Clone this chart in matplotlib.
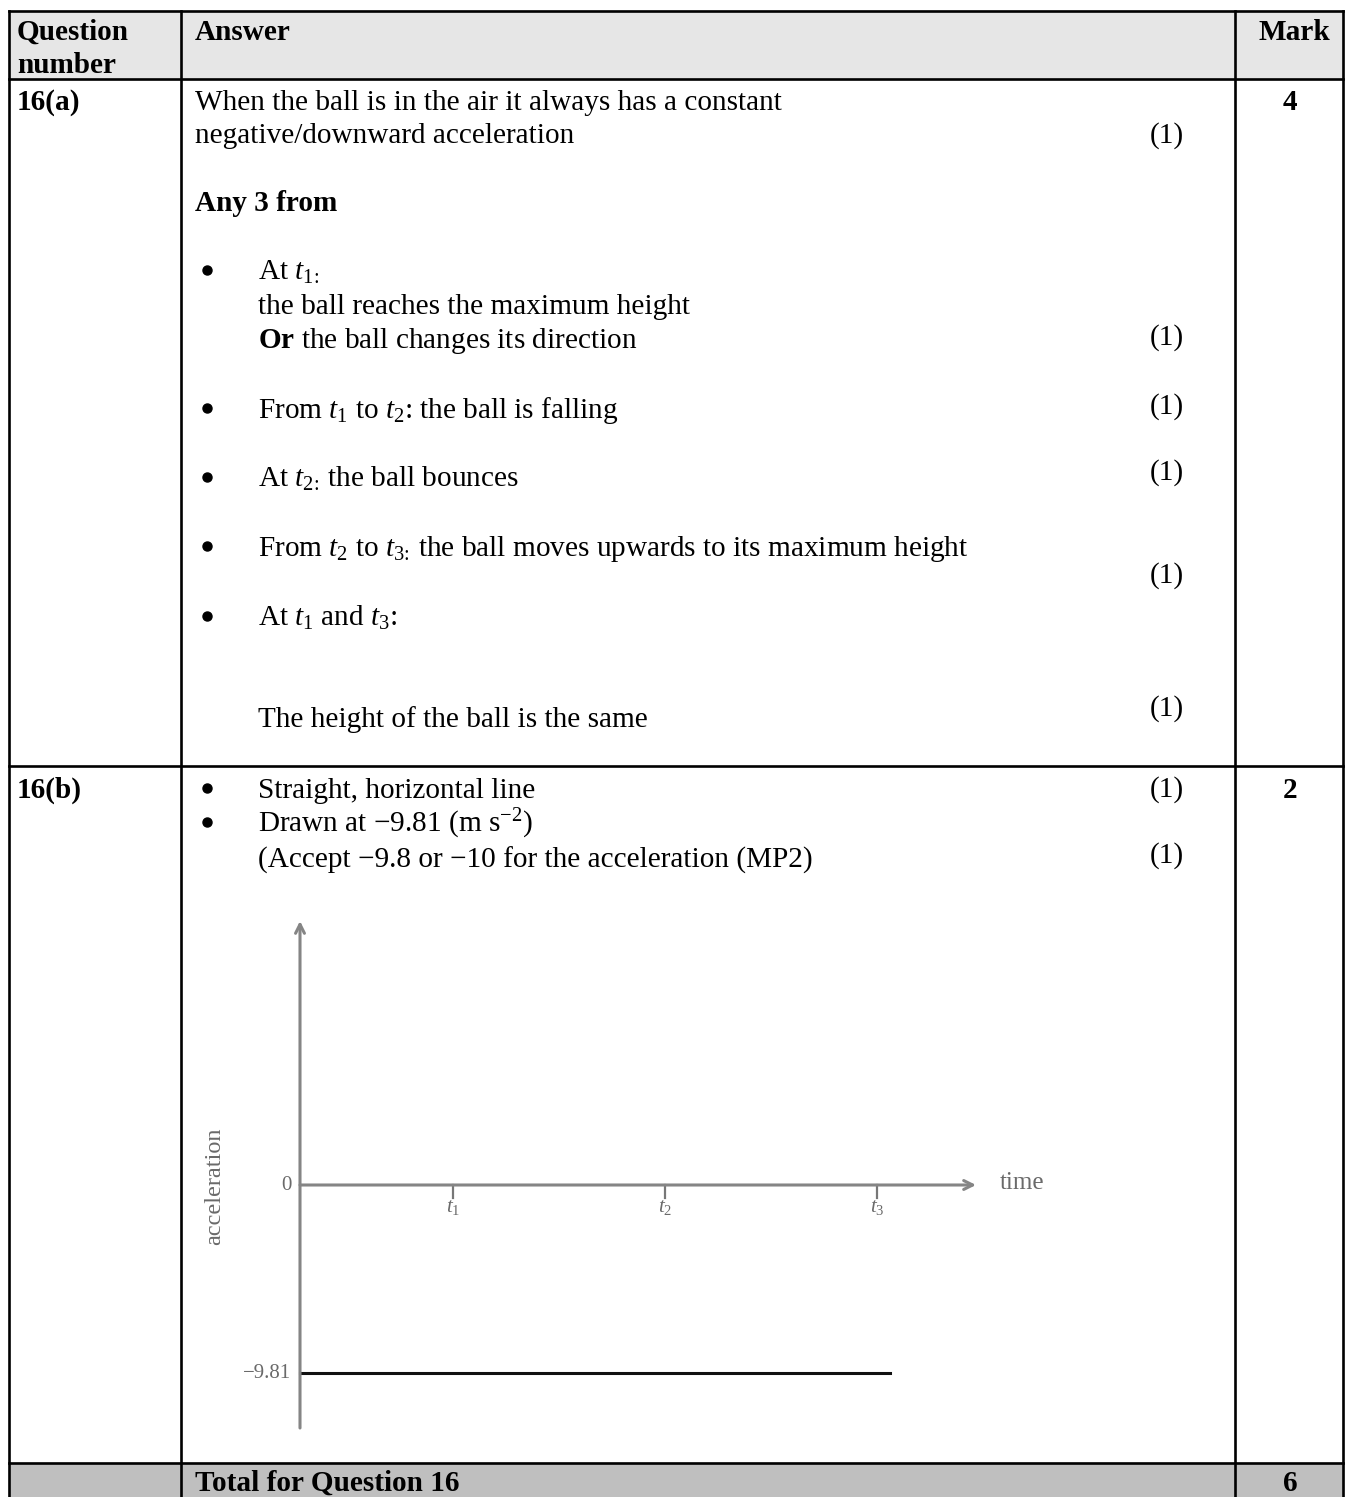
import matplotlib
matplotlib.use('Agg')
import matplotlib.pyplot as plt
from matplotlib.patches import Rectangle

plt.rcParams['font.family'] = ['Liberation Serif', 'DejaVu Serif']
plt.rcParams['mathtext.fontset'] = 'custom'
plt.rcParams['mathtext.rm'] = 'Liberation Serif'
plt.rcParams['mathtext.it'] = 'Liberation Serif:italic'
plt.rcParams['mathtext.bf'] = 'Liberation Serif:bold'

# ---------------- data ----------------
question_ids = ['16(a)', '16(b)']
marks = ['4', '2']
total_mark = '6'
time_labels = ['$t_1$', '$t_2$', '$t_3$']
time_points = [1, 2, 3]
accel_value = -9.81
accel_tick_values = [0, -9.81]
accel_tick_labels = ['0', '\u22129.81']

W, H = 1346, 1497
fig = plt.figure(figsize=(W / 100, H / 100), dpi=100)
ax = fig.add_axes([0, 0, 1, 1])
ax.set_xlim(0, W)
ax.set_ylim(H, 0)
ax.axis('off')

FS = 21.1
LW = 1.9

# table geometry (pixels)
XL, XC1, XC2, XR = 9, 181, 1235, 1343
YT, YH, YA, YB, YBOT = 11, 79, 766, 1463, 1497

ax.add_patch(Rectangle((XL, YT), XR - XL, YH - YT, color='#e6e6e6', zorder=0))
ax.add_patch(Rectangle((XL, YB), XR - XL, YBOT - YB, color='#bfbfbf', zorder=0))
for y in [YT, YH, YA, YB]:
    ax.plot([XL, XR], [y, y], color='black', lw=LW, solid_capstyle='projecting')
for x in [XL, XC1, XC2, XR]:
    ax.plot([x, x], [YT, YBOT + 2], color='black', lw=LW, solid_capstyle='projecting')


def txt(x, yc, s, bold=False, ha='left', size=FS, **kw):
    ax.text(x, yc + 10, s, ha=ha, va='baseline', fontsize=size,
            fontweight='bold' if bold else 'normal', color='black', **kw)


def bullet(yc):
    ax.plot([207], [yc], marker='o', ms=6.5, color='black')


XM = 1290
XP = 1150

# header
txt(17, 30, 'Question', bold=True)
txt(17, 63, 'number', bold=True)
txt(195, 30, 'Answer', bold=True)
txt(1294, 30, 'Mark', bold=True, ha='center')

# row 16(a)
txt(17, 100, question_ids[0], bold=True)
txt(XM, 100, marks[0], bold=True, ha='center')
txt(195, 100, 'When the ball is in the air it always has a constant')
txt(195, 133, 'negative/downward acceleration')
txt(XP, 133, '(1)')
txt(195, 201, 'Any 3 from', bold=True)

bullet(270)
txt(258, 270, r'At $t_{1\!:\!}$')
txt(258, 304, 'the ball reaches the maximum height')
txt(258, 338, r'$\mathbf{Or}$ the ball changes its direction')
txt(XP, 335, '(1)')

bullet(408)
txt(258, 408, 'From $t_1$ to $t_2$: the ball is falling')
txt(XP, 404, '(1)')

bullet(477)
txt(258, 477, r'At $t_{2\!:\!}$ the ball bounces')
txt(XP, 470, '(1)')

bullet(546)
txt(258, 546, r'From $t_2$ to $t_{3\!:\!}$ the ball moves upwards to its maximum height')
txt(XP, 573, '(1)')

bullet(616)
txt(258, 616, 'At $t_1$ and $t_3$:')

txt(258, 717, 'The height of the ball is the same')
txt(XP, 706, '(1)')

# row 16(b)
txt(17, 788, question_ids[1], bold=True)
txt(XM, 788, marks[1], bold=True, ha='center')
bullet(788)
txt(258, 788, 'Straight, horizontal line')
txt(XP, 787, '(1)')
bullet(822)
txt(258, 822, 'Drawn at \u22129.81 (m s$^{\u22122}$)')
txt(258, 858, '(Accept \u22129.8 or \u221210 for the acceleration (MP2)')
txt(XP, 853, '(1)')

# total row
txt(195, 1481, 'Total for Question 16', bold=True)
txt(XM, 1481, total_mark, bold=True, ha='center')

# ---------------- embedded graph ----------------
T1PX, TSP = 453, 212.0
Y0PX, YSP = 1185, 19.165
L, R, T, B = 190, 1070, 900, 1440
g = fig.add_axes([L / W, 1 - B / H, (R - L) / W, (B - T) / H])
g.set_xlim((L - T1PX) / TSP + 1, (R - T1PX) / TSP + 1)
g.set_ylim((Y0PX - B) / YSP, (Y0PX - T) / YSP)
g.axis('off')
g.patch.set_alpha(0)

t0 = (300 - T1PX) / TSP + 1
t_arrow = (976 - T1PX) / TSP + 1
t_line_end = (890 - T1PX) / TSP + 1
a_top = (Y0PX - 921) / YSP
a_bot = (Y0PX - 1428) / YSP
axc = '#858585'
lab_c = '#6a6a6a'

g.annotate('', xy=(t0, a_top), xytext=(t0, a_bot),
           arrowprops=dict(arrowstyle='->', color=axc, lw=2.2,
                           shrinkA=0, shrinkB=0, mutation_scale=16))
g.annotate('', xy=(t_arrow, 0), xytext=(t0, 0),
           arrowprops=dict(arrowstyle='->', color=axc, lw=2.2,
                           shrinkA=0, shrinkB=0, mutation_scale=16))

for tp, tl in zip(time_points, time_labels):
    g.plot([tp, tp], [0, -0.7], color='#777777', lw=1.6)
    g.text(tp, -1.15, tl, ha='center', va='center', fontsize=15, color=lab_c)

g.text(t_arrow + 0.11, 0.08, 'time', ha='left', va='center', fontsize=18, color=lab_c)
for v, lab in zip(accel_tick_values, accel_tick_labels):
    g.text(t0 - 0.04, v, lab, ha='right', va='center', fontsize=15, color=lab_c)
g.text((215 - T1PX) / TSP + 1, (Y0PX - 1186) / YSP, 'acceleration', rotation=90,
       ha='center', va='center', fontsize=17.5, color=lab_c)

g.plot([t0, t_line_end], [accel_value, accel_value], color='#111111', lw=2.2)

fig.savefig('out.png', dpi=100)
